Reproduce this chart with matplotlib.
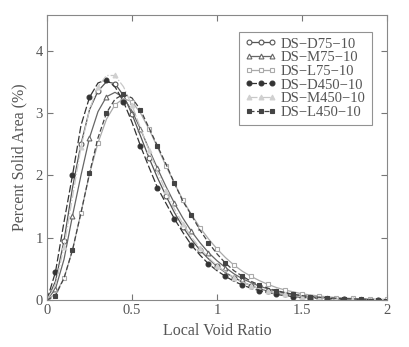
import numpy as np
import matplotlib
matplotlib.use("Agg")
import matplotlib.pyplot as plt

plt.rcParams['font.family'] = ['Liberation Serif', 'DejaVu Serif']

x = [0.00, 0.05, 0.10, 0.15, 0.20, 0.25, 0.30, 0.35, 0.40, 0.45,
     0.50, 0.55, 0.60, 0.65, 0.70, 0.75, 0.80, 0.85, 0.90, 0.95,
     1.00, 1.05, 1.10, 1.15, 1.20, 1.25, 1.30, 1.35, 1.40, 1.45,
     1.50, 1.55, 1.60, 1.65, 1.70, 1.75, 1.80, 1.85, 1.90, 1.95, 2.00]

ds_d75 = [0, 0.30, 0.95, 1.80, 2.50, 3.05, 3.35, 3.50, 3.47, 3.28,
          2.98, 2.63, 2.28, 1.96, 1.67, 1.40, 1.17, 0.97, 0.80, 0.66,
          0.54, 0.44, 0.36, 0.29, 0.23, 0.18, 0.14, 0.11, 0.09, 0.07,
          0.055, 0.043, 0.034, 0.027, 0.021, 0.016, 0.012, 0.009, 0.007, 0.005, 0.004]
ds_m75 = [0, 0.18, 0.65, 1.35, 2.00, 2.60, 3.02, 3.26, 3.33, 3.25,
          3.03, 2.74, 2.42, 2.11, 1.82, 1.55, 1.31, 1.10, 0.92, 0.76,
          0.63, 0.52, 0.42, 0.34, 0.28, 0.22, 0.18, 0.14, 0.11, 0.09,
          0.07, 0.055, 0.044, 0.035, 0.027, 0.021, 0.016, 0.012, 0.009, 0.007, 0.005]
ds_l75 = [0, 0.10, 0.35, 0.80, 1.40, 2.02, 2.52, 2.90, 3.13, 3.23,
          3.18, 3.00, 2.74, 2.45, 2.15, 1.87, 1.60, 1.37, 1.16, 0.98,
          0.82, 0.68, 0.56, 0.46, 0.38, 0.31, 0.25, 0.20, 0.16, 0.13,
          0.10, 0.08, 0.065, 0.05, 0.04, 0.032, 0.025, 0.02, 0.015, 0.012, 0.01]
ds_d450 = [0, 0.45, 1.25, 2.00, 2.80, 3.25, 3.48, 3.53, 3.42, 3.18,
           2.85, 2.47, 2.13, 1.80, 1.55, 1.30, 1.08, 0.88, 0.72, 0.58,
           0.47, 0.38, 0.30, 0.24, 0.19, 0.15, 0.12, 0.09, 0.07, 0.055,
           0.045, 0.035, 0.028, 0.022, 0.017, 0.013, 0.01, 0.008, 0.006, 0.004, 0.003]
ds_m450 = [0, 0.25, 0.85, 1.65, 2.45, 3.05, 3.42, 3.60, 3.60, 3.42,
           3.12, 2.76, 2.40, 2.05, 1.74, 1.46, 1.22, 1.01, 0.83, 0.68,
           0.55, 0.45, 0.36, 0.29, 0.23, 0.18, 0.14, 0.11, 0.09, 0.07,
           0.055, 0.043, 0.034, 0.027, 0.021, 0.016, 0.012, 0.009, 0.007, 0.005, 0.004]
ds_l450 = [0, 0.07, 0.35, 0.80, 1.40, 2.03, 2.60, 3.00, 3.22, 3.30,
           3.24, 3.05, 2.76, 2.47, 2.18, 1.87, 1.58, 1.36, 1.12, 0.92,
           0.74, 0.59, 0.47, 0.38, 0.30, 0.24, 0.19, 0.15, 0.12, 0.09,
           0.07, 0.055, 0.045, 0.035, 0.028, 0.022, 0.017, 0.013, 0.01, 0.008, 0.006]

labels = ['DS\u2212D75\u221210', 'DS\u2212M75\u221210', 'DS\u2212L75\u221210',
          'DS\u2212D450\u221210', 'DS\u2212M450\u221210', 'DS\u2212L450\u221210']
series = [ds_d75, ds_m75, ds_l75, ds_d450, ds_m450, ds_l450]

styles = [
    dict(color='#555555', ls='-', marker='o', mfc='white', mec='#555555'),
    dict(color='#666666', ls='-', marker='^', mfc='white', mec='#666666'),
    dict(color='#aaaaaa', ls='-', marker='s', mfc='white', mec='#aaaaaa'),
    dict(color='#333333', ls=(0, (6, 2)), marker='o', mfc='#333333', mec='#333333'),
    dict(color='#c8c8c8', ls='-.', marker='^', mfc='#d0d0d0', mec='#d0d0d0'),
    dict(color='#444444', ls=(0, (4, 2)), marker='s', mfc='#444444', mec='#444444'),
]

fig = plt.figure(figsize=(4.10, 3.47), dpi=100)
ax = fig.add_axes([0.1146, 0.1354, 0.8293, 0.8214])

for i, (y, lab, st) in enumerate(zip(series, labels, styles)):
    ax.plot(x, y, label=lab, lw=0.9, ms=3.5, mew=0.8,
            markevery=(i % 2, 2), **st)

ax.set_xlim(0, 2)
ax.set_ylim(0, 4.57)
ax.set_xticks([0, 0.5, 1, 1.5, 2])
ax.set_xticklabels(['0', '0.5', '1', '1.5', '2'])
ax.set_yticks([0, 1, 2, 3, 4])
ax.tick_params(direction='in', top=True, right=True, length=4, width=0.8,
               colors='#777777', labelcolor='#555555', labelsize=10.5, pad=3)
for s in ax.spines.values():
    s.set_color('#888888')
    s.set_linewidth(0.8)

ax.set_xlabel('Local Void Ratio', fontsize=11.5, color='#555555', labelpad=4)
ax.set_ylabel('Percent Solid Area (%)', fontsize=11.5, color='#555555', labelpad=6)

leg = ax.legend(loc='upper right', bbox_to_anchor=(0.955, 0.942), fontsize=10.5,
                frameon=True, fancybox=False, numpoints=3, handlelength=2.2,
                handletextpad=0.3, labelspacing=0.03, borderpad=0.4,
                borderaxespad=0.0, labelcolor='#555555')
leg.get_frame().set_edgecolor('#777777')
leg.get_frame().set_linewidth(0.8)

fig.savefig('out.png', dpi=100)
